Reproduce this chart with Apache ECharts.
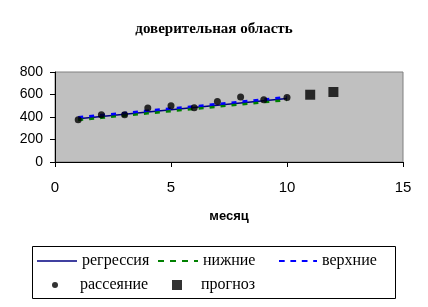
<!DOCTYPE html>
<html><head><meta charset="utf-8">
<script src="https://cdn.jsdelivr.net/npm/echarts@6/dist/echarts.min.js"></script>
<style>html,body{margin:0;padding:0;background:#fff}#c{width:428px;height:307px}</style>
</head><body><div id="c"></div>
<script>
const months = [1,2,3,4,5,6,7,8,9,10];
const scatterVals = [375,419,419,479,499,482,538,577,553,574];
const regVals = [385,405,425,445,464,484,504,524,544,564];
const lowerVals = [373,393,413,433,452,472,492,512,532,551];
const upperVals = [397,417,436,456,476,495,515,536,556,577];
const forecastMonths = [11,12];
const forecastVals = [598,622];
const xTicks = [0,5,10,15];
const yTicks = [0,200,400,600,800];

const pair = (xs, ys) => xs.map((x,i)=>[x, ys[i]]);
const chart = echarts.init(document.getElementById('c'), null, {renderer:'canvas'});
const legendFont = {fontFamily:'Liberation Serif', fontSize:16, color:'#000'};
const solidIcon = 'path://M0,0h40v1.5h-40z';
const dashIcon = 'path://M0,0h6v2h-6z M12,0h6v2h-6z M24,0h6v2h-6z M36,0h4v2h-4z';
function leg(name, left, top, icon, w, h, padLeft){
  return {data:[{name:name, icon:icon}], left:left, top:top, itemWidth:w, itemHeight:h, itemGap:0,
    textStyle:Object.assign({padding:[0,0,0,padLeft]}, legendFont), selectedMode:false, padding:0};
}
chart.setOption({
  animation:false,
  backgroundColor:'#fff',
  title:{text:'доверительная область', left:'center', top:17,
    textStyle:{fontFamily:'Liberation Serif', fontWeight:'bold', fontSize:15, color:'#000'}},
  grid:{left:55, right:25, top:72, height:90, show:true, backgroundColor:'#C0C0C0', borderColor:'#808080', borderWidth:1},
  xAxis:{type:'value', min:xTicks[0], max:xTicks[xTicks.length-1], interval:5,
    name:'месяц', nameLocation:'middle', nameGap:48,
    nameTextStyle:{fontFamily:'Liberation Sans', fontWeight:'bold', fontSize:13, color:'#000'},
    axisLine:{lineStyle:{color:'#000', width:1}}, axisTick:{show:true, length:5, lineStyle:{color:'#000'}},
    axisLabel:{margin:18, fontFamily:'Liberation Sans', fontSize:15, color:'#000'}, splitLine:{show:false}},
  yAxis:{type:'value', min:yTicks[0], max:yTicks[yTicks.length-1], interval:200,
    axisLine:{show:true, lineStyle:{color:'#000', width:1}}, axisTick:{show:true, length:5, lineStyle:{color:'#000'}},
    axisLabel:{margin:12, fontFamily:'Liberation Sans', fontSize:14, color:'#000'}, splitLine:{show:false}},
  legend:[
    leg('регрессия', 37, 253, solidIcon, 40, 1.5, 0),
    leg('нижние', 158, 253, dashIcon, 40, 2, 0),
    leg('верхние', 279, 253, dashIcon, 38, 2, 0),
    leg('рассеяние', 52, 277, 'circle', 6, 6, 17),
    leg('прогноз', 172, 277, 'rect', 10, 10, 14)
  ],
  graphic:[{type:'rect', shape:{x:32.5, y:246.5, width:363, height:52}, style:{fill:'none', stroke:'#000', lineWidth:1}, z:-1}],
  series:[
    {name:'регрессия', type:'line', data:pair(months, regVals), symbol:'none',
      lineStyle:{color:'#000080', width:1.5}, itemStyle:{color:'#000080'}, z:2},
    {name:'нижние', type:'line', data:pair(months, lowerVals), symbol:'none',
      lineStyle:{color:'#008000', width:2.5, type:[5,6]}, itemStyle:{color:'#008000'}, z:2},
    {name:'верхние', type:'line', data:pair(months, upperVals), symbol:'none',
      lineStyle:{color:'#0000FF', width:2.5, type:[5,6]}, itemStyle:{color:'#0000FF'}, z:2},
    {name:'рассеяние', type:'scatter', data:pair(months, scatterVals), symbol:'circle', symbolSize:7,
      itemStyle:{color:'#000'}, z:5},
    {name:'прогноз', type:'scatter', data:pair(forecastMonths, forecastVals), symbol:'rect', symbolSize:10,
      itemStyle:{color:'#000'}, z:5}
  ]
});
</script></body></html>
